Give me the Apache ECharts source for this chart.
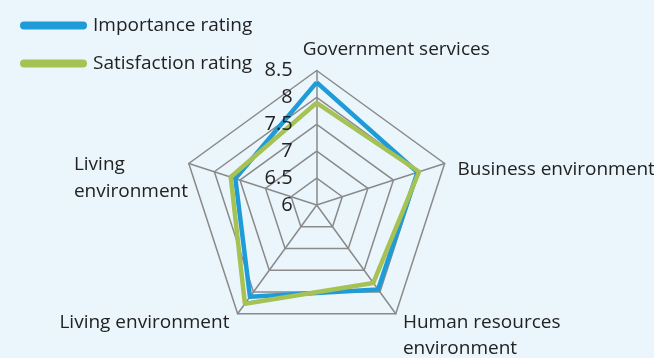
<!DOCTYPE html>
<html>
<head>
<meta charset="utf-8">
<script src="https://cdn.jsdelivr.net/npm/echarts@6/dist/echarts.min.js"></script>
<style>
  html, body { margin: 0; padding: 0; background: #eaf6fc; }
  #chart { width: 654px; height: 358px; }
</style>
</head>
<body>
<div id="chart"></div>
<script>
// indicator names, echarts goes counter-clockwise from the top
const indicators = ['Government services', 'Living\nenvironment', 'Living environment', 'Human resources\nenvironment', 'Business environment']
const importance = [8.28, 7.59, 8.11, 7.94, 7.97]
const satisfaction = [7.9, 7.68, 8.27, 7.79, 8.0]
const seriesNames = ['Importance rating', 'Satisfaction rating']
const axisMin = 6
const axisMax = 8.5

const txt = '#222'
const font = 'Open Sans'
const fs = 19
const center = [316.7, 205]
const radius = 134.5

// per indicator name tweaks so the labels sit like the original
const nameStyles = [
    { align: 'center', verticalAlign: 'bottom', padding: [0, 0, 6, 159] },
    { align: 'right', verticalAlign: 'middle', padding: [31, 0, 0, 0] },
    { align: 'right', verticalAlign: 'middle', padding: [14, 7, 0, 0] },
    { align: 'left', verticalAlign: 'middle', padding: [40, 0, 0, 6] },
    { align: 'left', verticalAlign: 'middle', padding: [14, 0, 0, 11] }
]

const myChart = echarts.init(document.getElementById('chart'))
myChart.setOption({
    backgroundColor: '#eaf6fc',
    animation: false,
    legend: {
        orient: 'vertical',
        left: 15,
        top: 11,
        itemWidth: 67,
        itemHeight: 8,
        itemGap: 19,
        icon: 'path://M4,0 H63 A4,4 0 0 1 63,8 H4 A4,4 0 0 1 4,0 Z',
        textStyle: { fontSize: fs, color: txt, fontFamily: font, padding: [0, 0, 0, 1] },
        data: seriesNames
    },
    radar: [
        {
            // grid, spokes and names, below the series
            z: 1,
            center: center,
            radius: radius,
            startAngle: 90,
            shape: 'polygon',
            splitNumber: 5,
            axisNameGap: 2,
            axisName: {
                color: txt,
                fontSize: fs,
                fontFamily: font,
                lineHeight: 26,
                // upper left label is left aligned inside its block
                formatter: (name) => name === 'Living\nenvironment'
                    ? name.split('\n').map(s => '{l|' + s + '}').join('\n')
                    : name,
                rich: {
                    l: { width: 113, align: 'left', fontSize: fs, fontFamily: font, color: txt, lineHeight: 27 }
                }
            },
            splitArea: { show: false },
            splitLine: { lineStyle: { color: '#8a8a8a', width: 1.5 } },
            axisLine: { lineStyle: { color: '#8a8a8a', width: 1.5 } },
            axisLabel: { show: false },
            indicator: indicators.map((name, i) => ({
                name: name,
                min: axisMin,
                max: axisMax,
                nameMoveOverlap: false,
                nameTextStyle: nameStyles[i]
            }))
        },
        {
            // same geometry, only the tick labels, drawn above the series
            z: 5,
            center: center,
            radius: radius,
            startAngle: 90,
            shape: 'polygon',
            splitNumber: 5,
            axisName: { show: false },
            splitArea: { show: false },
            splitLine: { show: false },
            axisLine: { show: false },
            axisLabel: { show: false },
            indicator: indicators.map((name, i) => ({
                name: name,
                min: axisMin,
                max: axisMax,
                axisLabel: i === 0 ? {
                    show: true,
                    fontSize: 20,
                    fontFamily: font,
                    color: txt,
                    margin: 24,
                    formatter: v => String(+v.toFixed(1))
                } : { show: false }
            }))
        }
    ],
    series: [{
        type: 'radar',
        radarIndex: 0,
        z: 2,
        symbol: 'none',
        data: [
            {
                name: seriesNames[0],
                value: importance,
                itemStyle: { color: '#1f9bd7' },
                lineStyle: { color: '#1f9bd7', width: 4.5 }
            },
            {
                name: seriesNames[1],
                value: satisfaction,
                itemStyle: { color: '#a6c255' },
                lineStyle: { color: '#a6c255', width: 4.5 }
            }
        ]
    }]
})
</script>
</body>
</html>
